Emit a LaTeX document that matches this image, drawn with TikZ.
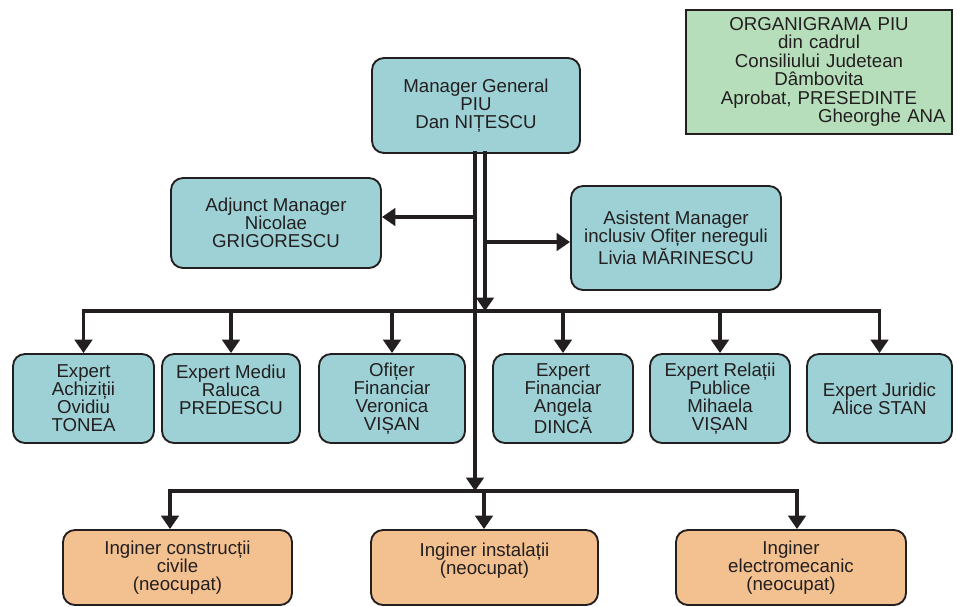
\documentclass[tikz,border=0pt]{standalone}
\usepackage{fontspec}
\setmainfont{Liberation Sans}
\usetikzlibrary{arrows.meta}
\definecolor{boxteal}{RGB}{157,209,213}
\definecolor{boxorange}{RGB}{243,192,143}
\definecolor{boxgreen}{RGB}{183,222,186}
\definecolor{inkdark}{RGB}{35,31,32}
\begin{document}
\begin{tikzpicture}[x=0.75pt,y=0.75pt,yscale=-1,xscale=1,
    staff/.style={draw=inkdark,line width=1.4pt,rounded corners=9pt,fill=boxteal,align=center,inner sep=0pt,text=inkdark,font=\fontsize{14}{13.5}\selectfont},
    eng/.style={staff,fill=boxorange},
    conn/.style={draw=inkdark,line width=2.4pt,line cap=rect},
    arr/.style={conn,-{Triangle[width=13pt,length=10pt]}}]
    \useasboundingbox (0,0) rectangle (957,607);
    % Title Node
    \node (title) at (819,72) [draw=inkdark,line width=1.2pt,fill=boxgreen,minimum width=199.5pt,minimum height=93pt,text width=190pt,align=center,text=inkdark,font=\fontsize{14}{13.8}\selectfont] {ORGANIGRAMA PIU\\din cadrul\\Consiliului Judetean\\Dâmbovita\\Aprobat, PRESEDINTE\\\hfill Gheorghe ANA};
    % Manager Nodes
    \node (mgr) at (476,105.5) [staff,minimum width=156pt,minimum height=71.25pt] {Manager General\\PIU\\Dan NIȚESCU};
    \node (adj) at (276,223) [staff,minimum width=157.5pt,minimum height=67.5pt] {Adjunct Manager\\Nicolae\\GRIGORESCU};
    \node (asist) at (676,238) [staff,minimum width=157.5pt,minimum height=78pt] {Asistent Manager\\inclusiv Ofițer nereguli\\Livia MĂRINESCU};
    % Expert Nodes
    \node (achiz) at (83.5,398.5) [staff,minimum width=105.75pt,minimum height=66.75pt] {Expert\\Achiziții\\Ovidiu\\TONEA};
    \node (mediu) at (231,398.5) [staff,minimum width=103.5pt,minimum height=66.75pt] {Expert Mediu\\Raluca\\PREDESCU\\\mbox{}};
    \node (ofiter) at (392,398.5) [staff,minimum width=109.5pt,minimum height=66.75pt] {Ofițer\\Financiar\\Veronica\\VIȘAN};
    \node (financ) at (563,398.5) [staff,minimum width=105pt,minimum height=66.75pt] {Expert\\Financiar\\Angela\\DINCĂ};
    \node (relatii) at (720,398.5) [staff,minimum width=105pt,minimum height=66.75pt] {Expert Relații\\Publice\\Mihaela\\VIȘAN};
    \node (juridic) at (879.5,398.5) [staff,minimum width=108.75pt,minimum height=66.75pt] {Expert Juridic\\Alice STAN};
    % Engineer Nodes
    \node (constr) at (177.5,567.5) [eng,minimum width=171.75pt,minimum height=56.25pt] {Inginer construcții\\civile\\(neocupat)};
    \node (instal) at (484.5,567.5) [eng,minimum width=170.25pt,minimum height=56.25pt] {Inginer instalații\\(neocupat)\\\mbox{}};
    \node (electro) at (791,567.5) [eng,minimum width=172.5pt,minimum height=56.25pt] {Inginer\\electromecanic\\(neocupat)};
    % Connection points
    \coordinate (stemL) at (475,153);
    \coordinate (stemR) at (485,153);
    \coordinate (forkA) at (475,217);
    \coordinate (forkB) at (485,242);
    \coordinate (busE) at (485,311);
    \coordinate (busB) at (475,491);
    \coordinate (dropC) at (170,491);
    \coordinate (dropI) at (484,491);
    \coordinate (dropE) at (797,491);
    % Connection
    \draw [arr] (stemL) -- (busB);
    \draw [arr] (stemR) -- (busE);
    \draw [arr] (forkA) -- (forkA -| adj.east);
    \draw [arr] (forkB) -- (forkB -| asist.west);
    % Connection
    \draw [conn] (achiz.north |- busE) -- (juridic.north |- busE);
    \foreach \n in {achiz,mediu,ofiter,financ,relatii,juridic}
        \draw [arr] (\n.north |- busE) -- (\n.north);
    % Connection
    \draw [conn] (dropC) -- (dropE);
    \foreach \c/\n in {dropC/constr,dropI/instal,dropE/electro}
        \draw [arr] (\c) -- (\c |- \n.north);
\end{tikzpicture}
\end{document}
